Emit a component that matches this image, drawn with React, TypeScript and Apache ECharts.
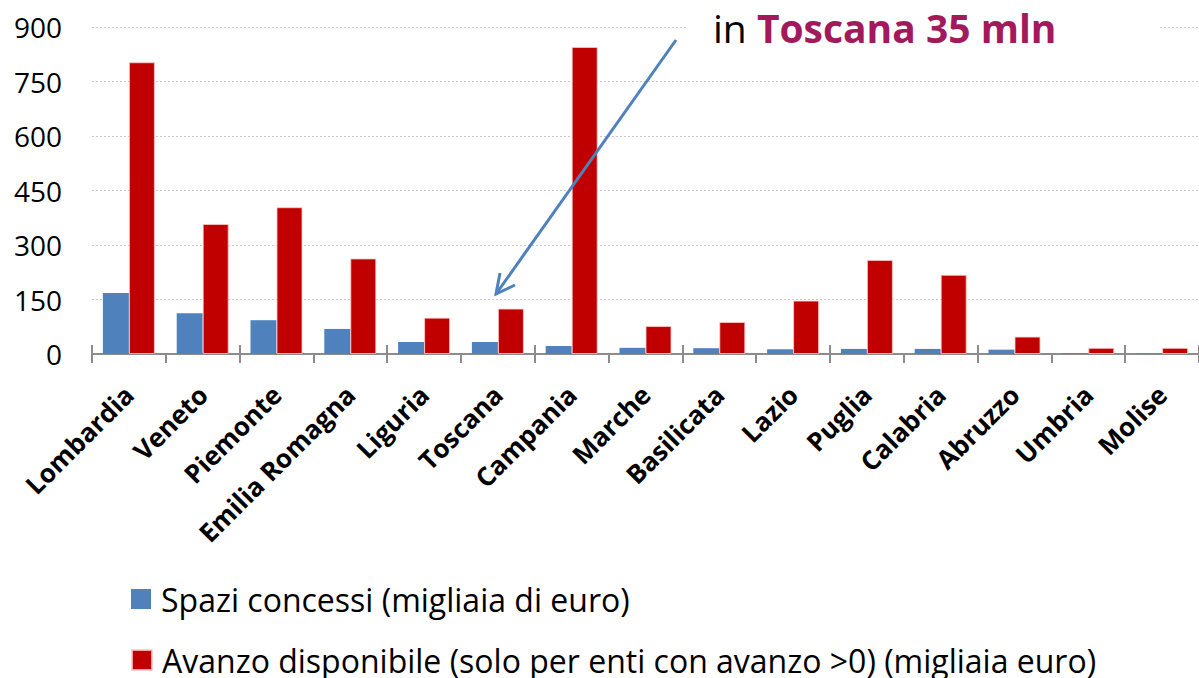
import React, { useEffect, useRef } from "react";
import * as echarts from "echarts";

const categories = [
  "Lombardia", "Veneto", "Piemonte", "Emilia Romagna", "Liguria", "Toscana", "Campania",
  "Marche", "Basilicata", "Lazio", "Puglia", "Calabria", "Abruzzo", "Umbria", "Molise",
];
const spaziConcessi = [168, 112, 93, 69, 33, 33, 22, 17, 16, 13, 14, 14, 12, 2, 1];
const avanzoDisponibile = [803, 358, 404, 263, 100, 125, 845, 77, 88, 147, 259, 218, 48, 17, 17];
const seriesNames = [
  "Spazi concessi (migliaia di euro)",
  "Avanzo disponibile (solo per enti con avanzo >0) (migliaia euro)",
];
const yTicks = { min: 0, max: 900, interval: 150 };

const FONT = "'Open Sans', Lato, sans-serif";

const legendBase = {
  orient: "vertical",
  left: 131,
  padding: 0,
  itemWidth: 20,
  itemHeight: 20,
  icon: "rect",
  textStyle: { fontSize: 32, color: "#000", fontFamily: FONT, padding: [0, 0, 0, 5] },
};

export default function App() {
  const ref = useRef<HTMLDivElement>(null);
  useEffect(() => {
    if (!ref.current) return;
    const chart = echarts.init(ref.current, null, { renderer: "svg" });
    chart.setOption({
      animation: false,
      backgroundColor: "#ffffff",
      textStyle: { fontFamily: FONT },
      grid: { left: 92, right: -7, top: 27, bottom: 324, containLabel: false },
      legend: [
        { ...legendBase, top: 583, data: [seriesNames[0]] },
        { ...legendBase, top: 644, data: [seriesNames[1]] },
      ],
      xAxis: [
        {
          type: "category",
          data: categories,
          boundaryGap: true,
          axisLine: { show: true, lineStyle: { color: "#8c8c8c", width: 2 } },
          axisTick: { show: true, inside: false, length: 9, alignWithLabel: false, lineStyle: { color: "#8c8c8c", width: 2 } },
          axisLabel: {
            rotate: 45,
            margin: 36,
            interval: 0,
            fontSize: 26,
            fontWeight: "bold",
            color: "#000",
            fontFamily: FONT,
          },
          splitLine: { show: false },
        },
        {
          type: "category",
          data: categories,
          position: "bottom",
          boundaryGap: true,
          axisLine: { show: false },
          axisTick: { show: true, inside: true, length: 9, lineStyle: { color: "#8c8c8c", width: 2 } },
          axisLabel: { show: false },
        },
      ],
      yAxis: {
        type: "value",
        min: yTicks.min,
        max: yTicks.max,
        interval: yTicks.interval,
        axisLine: { show: false },
        axisTick: { show: false },
        axisLabel: { fontSize: 28, color: "#000", margin: 30, fontFamily: FONT },
        splitLine: { show: true, lineStyle: { color: "#c8c8c8", type: [2, 2], width: 1 } },
      },
      series: [
        {
          name: seriesNames[0],
          type: "bar",
          data: spaziConcessi,
          barWidth: 26,
          barGap: "0%",
          itemStyle: { color: "#4F81BD" },
        },
        {
          name: seriesNames[1],
          type: "bar",
          data: avanzoDisponibile,
          barWidth: 26,
          barGap: "0%",
          itemStyle: { color: "#C00000", borderColor: "rgba(255,200,200,0.8)", borderWidth: 1 },
        },
      ],
      graphic: [
        { type: "rect", shape: { x: 688, y: 0, width: 472, height: 62 }, style: { fill: "#ffffff" }, z: 50 },
        {
          type: "text",
          x: 713,
          y: 8,
          z: 60,
          style: {
            text: "{a|in }{b|Toscana 35 mln}",
            rich: {
              a: { fontSize: 39, fontFamily: FONT, fill: "#000" },
              b: { fontSize: 39, fontFamily: FONT, fontWeight: "bold", fill: "#A21A5B" },
            },
          },
        },
        {
          type: "line",
          z: 60,
          shape: { x1: 676, y1: 40, x2: 496, y2: 294 },
          style: { stroke: "#4F81BD", lineWidth: 3 },
        },
        {
          type: "polyline",
          z: 60,
          shape: { points: [[500, 273], [496, 294], [515, 285]] },
          style: { stroke: "#4F81BD", lineWidth: 3, fill: null },
        },
      ],
    });
    return () => chart.dispose();
  }, []);
  return (
    <div
      ref={ref}
      style={{ position: "fixed", left: 0, top: 0, width: 1199, height: 678, background: "#fff" }}
    />
  );
}
